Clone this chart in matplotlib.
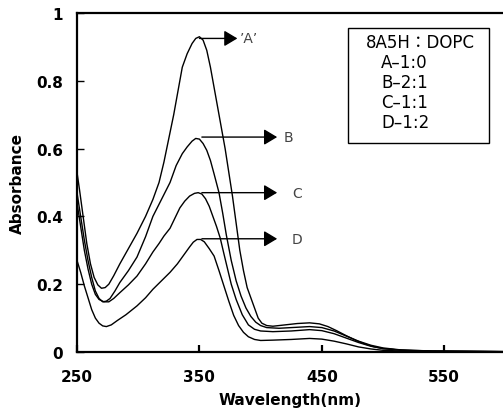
import matplotlib
matplotlib.use("Agg")
import matplotlib.pyplot as plt
from matplotlib.patches import Rectangle

plt.rcParams['font.family'] = ['DejaVu Sans', 'Noto Sans CJK KR']

# ---- data ----
wl_A = [250, 252, 255, 258, 261, 264, 267, 270, 273, 276, 280, 285, 292, 299, 306, 312, 317, 321, 325, 329, 333, 336, 340, 344, 347, 350, 353, 356, 359, 362, 365, 368, 371, 374, 377, 380, 383, 386, 389, 392, 395, 398, 401, 405, 410, 420, 430, 440, 448, 455, 462, 470, 478, 485, 492, 500, 510, 520, 540, 570, 600]
abs_A = [0.53, 0.48, 0.40, 0.32, 0.26, 0.22, 0.198, 0.188, 0.19, 0.20, 0.225, 0.26, 0.305, 0.35, 0.40, 0.45, 0.50, 0.56, 0.63, 0.70, 0.78, 0.84, 0.88, 0.91, 0.925, 0.93, 0.92, 0.89, 0.84, 0.78, 0.72, 0.66, 0.60, 0.53, 0.46, 0.38, 0.30, 0.24, 0.19, 0.16, 0.13, 0.10, 0.085, 0.078, 0.076, 0.08, 0.084, 0.086, 0.083, 0.075, 0.063, 0.048, 0.034, 0.024, 0.016, 0.01, 0.007, 0.005, 0.003, 0.002, 0.001]

wl_B = [250, 253, 256, 259, 262, 265, 268, 271, 274, 277, 281, 285, 292, 299, 306, 312, 319, 326, 331, 336, 340, 344, 347, 350, 353, 356, 359, 362, 366, 369, 372, 376, 380, 384, 388, 392, 396, 400, 405, 415, 430, 440, 450, 460, 470, 480, 490, 500, 515, 540, 600]
abs_B = [0.47, 0.40, 0.33, 0.27, 0.22, 0.18, 0.158, 0.148, 0.15, 0.158, 0.18, 0.205, 0.24, 0.28, 0.34, 0.40, 0.45, 0.50, 0.55, 0.585, 0.605, 0.622, 0.63, 0.628, 0.615, 0.595, 0.565, 0.525, 0.47, 0.41, 0.345, 0.27, 0.21, 0.165, 0.13, 0.105, 0.088, 0.078, 0.072, 0.07, 0.073, 0.075, 0.072, 0.062, 0.047, 0.032, 0.02, 0.012, 0.006, 0.003, 0.001]

wl_C = [250, 253, 256, 259, 262, 265, 268, 272, 276, 280, 285, 292, 299, 306, 312, 317, 321, 326, 330, 334, 338, 342, 346, 349, 352, 355, 358, 361, 364, 367, 370, 373, 376, 380, 385, 390, 395, 400, 410, 425, 440, 450, 460, 470, 480, 490, 500, 515, 540, 600]
abs_C = [0.44, 0.37, 0.30, 0.245, 0.20, 0.17, 0.155, 0.148, 0.148, 0.158, 0.175, 0.198, 0.224, 0.26, 0.295, 0.32, 0.342, 0.365, 0.395, 0.425, 0.445, 0.46, 0.468, 0.47, 0.466, 0.452, 0.43, 0.40, 0.37, 0.336, 0.29, 0.245, 0.20, 0.155, 0.11, 0.08, 0.067, 0.062, 0.06, 0.062, 0.066, 0.063, 0.054, 0.041, 0.028, 0.017, 0.01, 0.005, 0.002, 0.001]

wl_D = [250, 253, 256, 259, 262, 265, 268, 271, 274, 278, 283, 290, 299, 306, 312, 319, 326, 332, 338, 342, 345, 348, 351, 354, 358, 362, 366, 370, 374, 378, 382, 386, 390, 395, 400, 410, 425, 440, 450, 460, 470, 480, 490, 500, 520, 600]
abs_D = [0.27, 0.235, 0.195, 0.16, 0.125, 0.10, 0.085, 0.077, 0.075, 0.08, 0.093, 0.11, 0.136, 0.16, 0.185, 0.21, 0.235, 0.26, 0.29, 0.31, 0.324, 0.332, 0.332, 0.325, 0.305, 0.283, 0.24, 0.195, 0.15, 0.108, 0.078, 0.058, 0.045, 0.037, 0.034, 0.035, 0.037, 0.04, 0.038, 0.032, 0.024, 0.015, 0.009, 0.005, 0.002, 0.001]

curve_labels = ["’A’", "B", "C", "D"]
peak_x = [350, 352, 352, 352]
peak_y = [0.925, 0.634, 0.47, 0.334]
arrow_end_x = [381, 413.5, 413.5, 413.5]
label_x = [383, 419, 426, 425]

legend_title = "8A5H：DOPC"
legend_lines = ["A–1:0", "B–2:1", "C–1:1", "D–1:2"]

x_ticks = [250, 350, 450, 550]
y_ticks = [0, 0.2, 0.4, 0.6, 0.8, 1]
y_ticklabels = ["0", "0.2", "0.4", "0.6", "0.8", "1"]

# ---- figure ----
fig = plt.figure(figsize=(5.03, 4.14), dpi=100)
ax = fig.add_axes([77/503, 1-353/414, (503-77)/503, (353-14)/414])

for wl, ab in [(wl_A, abs_A), (wl_B, abs_B), (wl_C, abs_C), (wl_D, abs_D)]:
    ax.plot(wl, ab, color='black', lw=1.0)

ax.set_xlim(250, 598)
ax.set_ylim(0, 1)
ax.set_xticks(x_ticks)
ax.set_xticklabels([str(t) for t in x_ticks])
ax.set_yticks(y_ticks)
ax.set_yticklabels(y_ticklabels)

for s in ['left', 'bottom', 'top']:
    ax.spines[s].set_linewidth(1.6)
ax.spines['right'].set_visible(False)

ax.tick_params(axis='y', direction='in', length=5, width=1, pad=10, labelsize=11)
ax.tick_params(axis='x', direction='in', length=5, width=1.6, pad=12, labelsize=11)
for lab in ax.get_xticklabels() + ax.get_yticklabels():
    lab.set_fontweight('bold')

ax.set_xlabel("Wavelength(nm)", fontsize=11, fontweight='bold', labelpad=6)
ax.set_ylabel("Absorbance", fontsize=11, fontweight='bold', labelpad=8)

for lbl, px, py, ex, lx in zip(curve_labels, peak_x, peak_y, arrow_end_x, label_x):
    ax.annotate("", xy=(ex, py), xytext=(px, py),
                arrowprops=dict(arrowstyle='-|>,head_length=0.8,head_width=0.48',
                                color='black', lw=1.0, shrinkA=0, shrinkB=0,
                                mutation_scale=10))
    ax.text(lx, py, lbl, fontsize=10, color='#444444', ha='left', va='center')

# legend box
ax.add_patch(Rectangle((0.636, 0.617), 0.331, 0.339, transform=ax.transAxes,
                       fill=False, edgecolor='black', lw=1.0))
ax.text(0.805, 0.914, legend_title, transform=ax.transAxes, fontsize=12,
        ha='center', va='center')
for i, t in enumerate(legend_lines):
    ax.text(0.714, 0.855 - i*0.059, t, transform=ax.transAxes, fontsize=12,
            ha='left', va='center')

fig.savefig("out.png", dpi=100)
